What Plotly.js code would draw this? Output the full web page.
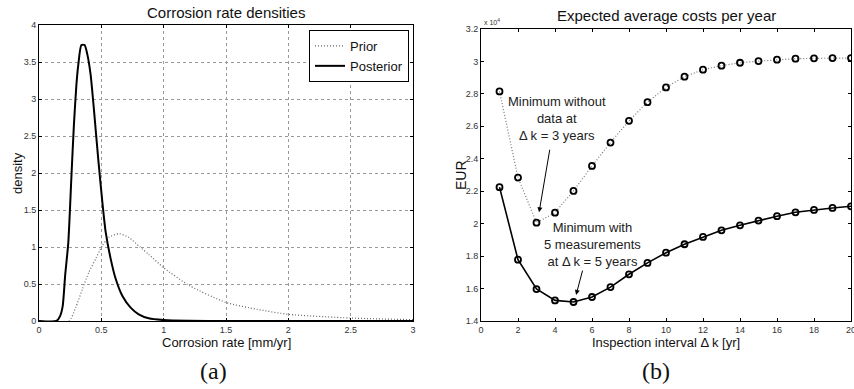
<!DOCTYPE html>
<html>
<head>
<meta charset="utf-8">
<script src="https://cdn.plot.ly/plotly-3.0.1.min.js"></script>
<style>html,body{margin:0;padding:0;background:#fff;}#chart{width:854px;height:389px;}</style>
</head>
<body>
<div id="chart"></div>
<script>
// (a) Corrosion rate densities
const rateXPrior = [0, 0.24, 0.294, 0.348, 0.40, 0.455, 0.508, 0.56, 0.642, 0.72, 0.81, 0.88, 1.0, 1.21, 1.5, 1.75, 2.0, 2.5, 3.0];
const densityPrior = [0, 0, 0.18, 0.43, 0.66, 0.84, 1.02, 1.13, 1.18, 1.13, 1.0, 0.9, 0.72, 0.475, 0.25, 0.158, 0.09, 0.04, 0.018];
const rateXPost = [0, 0.14, 0.17, 0.19, 0.21, 0.235, 0.26, 0.28, 0.30, 0.315, 0.34, 0.366, 0.388, 0.414, 0.44, 0.475, 0.508, 0.535, 0.575, 0.615, 0.668, 0.735, 0.80, 0.88, 1.0, 1.2, 1.5, 2.0, 3.0];
const densityPost = [0, 0, 0.07, 0.2, 0.62, 1.06, 1.95, 2.65, 3.19, 3.46, 3.73, 3.73, 3.6, 3.33, 2.87, 2.19, 1.61, 1.2, 0.84, 0.57, 0.34, 0.18, 0.09, 0.036, 0.012, 0.002, 0, 0, 0];

// (b) Expected average costs per year
const interval = [1,2,3,4,5,6,7,8,9,10,11,12,13,14,15,16,17,18,19,20];
const costNoData = [28150, 22840, 20060, 20680, 22020, 23560, 25000, 26340, 27490, 28400, 29060, 29490, 29740, 29920, 30020, 30110, 30170, 30190, 30210, 30210];
const costWithData = [22250, 17780, 15970, 15270, 15170, 15480, 16090, 16880, 17580, 18210, 18730, 19180, 19590, 19900, 20190, 20460, 20700, 20850, 20970, 21070];
const costTicks = [14000, 16000, 18000, 20000, 22000, 24000, 26000, 28000, 30000, 32000];
const costTickText = costTicks.map(v => String(v / 1e4));

const W = 854, H = 389;
const FONT = 'Liberation Sans, Arial, sans-serif';
const SERIF = 'Liberation Serif, Times New Roman, serif';
const px = v => v / W, py = v => 1 - v / H;

const traces = [
  {x: rateXPrior, y: densityPrior, name: 'Prior', type: 'scatter', mode: 'lines',
   line: {color: '#666', width: 1.2, dash: '1px,2px', shape: 'spline', smoothing: 0.6}, xaxis: 'x', yaxis: 'y'},
  {x: rateXPost, y: densityPost, name: 'Posterior', type: 'scatter', mode: 'lines',
   line: {color: '#000', width: 2, shape: 'spline', smoothing: 0.6}, xaxis: 'x', yaxis: 'y'},
  {x: interval, y: costNoData, name: 'Without data', type: 'scatter', mode: 'lines+markers', showlegend: false,
   line: {color: '#777', width: 1.2, dash: '1px,2px'},
   marker: {symbol: 'circle-open', size: 6, color: '#000', line: {width: 1.8, color: '#000'}}, xaxis: 'x2', yaxis: 'y2'},
  {x: interval, y: costWithData, name: 'With 5 measurements', type: 'scatter', mode: 'lines+markers', showlegend: false,
   line: {color: '#000', width: 1.6},
   marker: {symbol: 'circle-open', size: 6, color: '#000', line: {width: 1.8, color: '#000'}}, xaxis: 'x2', yaxis: 'y2'}
];

const axisCommon = {
  showline: true, linecolor: '#000', linewidth: 1, mirror: 'ticks',
  ticks: 'inside', ticklen: 3, tickcolor: '#000', zeroline: false,
  ticklabeloverflow: 'allow',
  tickfont: {family: FONT, size: 9, color: '#333'}
};

function label(x, y, text, size, extra) {
  return Object.assign({xref: 'paper', yref: 'paper', x: px(x), y: py(y), xanchor: 'center', yanchor: 'middle',
    text: text, showarrow: false, font: {family: FONT, size: size, color: '#111'}}, extra || {});
}

const layout = {
  width: W, height: H, margin: {l: 0, r: 0, t: 0, b: 0, pad: 0},
  paper_bgcolor: '#fff', plot_bgcolor: '#fff',
  font: {family: FONT, color: '#222'},
  xaxis: Object.assign({}, axisCommon, {domain: [px(39), px(413)], range: [0, 3], dtick: 0.5, tick0: 0,
    showgrid: true, gridcolor: '#999', griddash: 'dot', gridwidth: 1, anchor: 'y'}),
  yaxis: Object.assign({}, axisCommon, {domain: [py(321), py(25)], range: [0, 4], dtick: 0.5, tick0: 0,
    showgrid: true, gridcolor: '#999', griddash: 'dot', gridwidth: 1, anchor: 'x'}),
  xaxis2: Object.assign({}, axisCommon, {domain: [px(481), px(851)], range: [0, 20], dtick: 2, tick0: 0,
    showgrid: false, anchor: 'y2'}),
  yaxis2: Object.assign({}, axisCommon, {domain: [py(321), py(29)], range: [14000, 32000],
    tickvals: costTicks, ticktext: costTickText, showgrid: false, anchor: 'x2'}),
  showlegend: true,
  legend: {x: px(409), y: py(30), xanchor: 'right', yanchor: 'top', bgcolor: '#fff',
    bordercolor: '#000', borderwidth: 1, font: {family: FONT, size: 13, color: '#111'},
    tracegroupgap: 0, itemwidth: 30},
  annotations: [
    label(226, 13, 'Corrosion rate densities', 15),
    label(666, 16, 'Expected average costs per year', 15),
    label(226, 342, 'Corrosion rate [mm/yr]', 13),
    label(666, 342, 'Inspection interval Δ k [yr]', 13),
    label(17, 173, 'density', 13, {textangle: -90}),
    label(461, 175, 'EUR', 14, {textangle: -90}),
    label(482, 22, 'x 10<sup>4</sup>', 7, {xanchor: 'left', font: {family: FONT, size: 7, color: '#333'}}),
    label(213, 371, '(a)', 24, {font: {family: SERIF, size: 24, color: '#111'}}),
    label(656, 371, '(b)', 24, {font: {family: SERIF, size: 24, color: '#111'}}),
    label(557, 118, 'Minimum without<br>data at<br>Δ k = 3 years', 13, {font: {family: FONT, size: 13, color: '#222'}}),
    label(592, 244, 'Minimum with<br>5 measurements<br>at Δ k = 5 years', 13, {font: {family: FONT, size: 13, color: '#222'}}),
    {xref: 'x2', yref: 'y2', x: 3.14, y: 20700, axref: 'x2', ayref: 'y2', ax: 3.73, ay: 24650, text: '',
     showarrow: true, arrowhead: 2, arrowsize: 1, arrowwidth: 1, arrowcolor: '#000', standoff: 0},
    {xref: 'x2', yref: 'y2', x: 5.14, y: 15600, axref: 'x2', ayref: 'y2', ax: 5.51, ay: 17200, text: '',
     showarrow: true, arrowhead: 2, arrowsize: 1, arrowwidth: 1, arrowcolor: '#000', standoff: 0}
  ]
};

Plotly.newPlot('chart', traces, layout, {staticPlot: true, displayModeBar: false});
</script>
</body>
</html>
